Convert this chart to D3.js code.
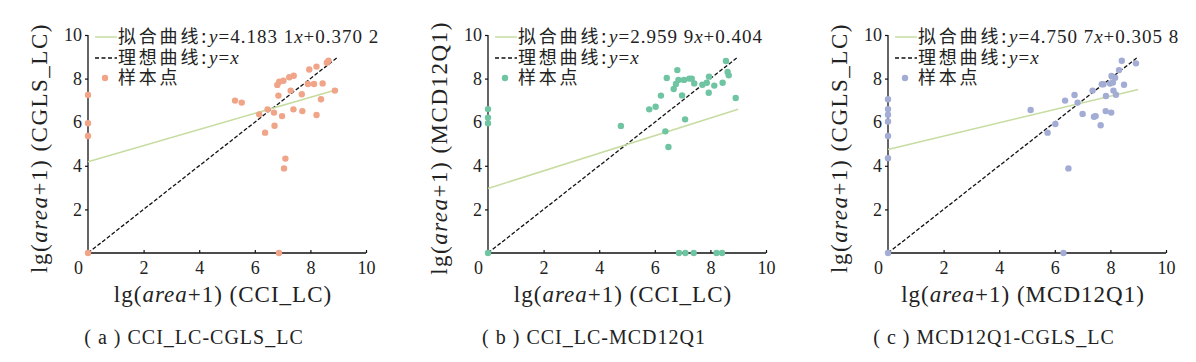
<!DOCTYPE html>
<html>
<head>
<meta charset="utf-8">
<script src="https://cdn.jsdelivr.net/npm/d3@7"></script>
<style>
  body { margin: 0; background: #fff; }
  text { font-family: "Liberation Serif", "DejaVu Serif", serif; fill: #222; }
  .cjk { font-family: "Noto Sans CJK SC", sans-serif; }
</style>
</head>
<body>
<div id="chart"></div>
<script>
// data
const tickValues = [0, 2, 4, 6, 8, 10];
const xNames = ['CCI_LC', 'CCI_LC', 'MCD12Q1'];
const yNames = ['CGLS_LC', 'MCD12Q1', 'CGLS_LC'];
const captions = ['( a ) CCI_LC-CGLS_LC', '( b ) CCI_LC-MCD12Q1', '( c ) MCD12Q1-CGLS_LC'];
const fitA = [0.3702, 4.1831];   // slope, intercept as drawn
const fitB = [0.404, 2.9599];
const fitC = [0.3058, 4.7507];
const fitText = [['4.183 1', '+0.370 2'], ['2.959 9', '+0.404'], ['4.750 7', '+0.305 8']];
const dotColors = ['#f0a488', '#6fc4a2', '#a2acd4'];

const pointsA = [
  [0, 7.25], [0, 5.95], [0, 5.37], [0, 0],
  [5.29, 6.99], [5.53, 6.9], [6.16, 6.36], [6.46, 6.59], [6.37, 5.52], [6.69, 6.44],
  [6.71, 5.84], [6.85, 7.22], [6.81, 7.71], [6.88, 7.86], [7.03, 7.9], [6.98, 6.28],
  [7.1, 4.33], [7.05, 3.88], [6.87, 0], [7.24, 8.06], [7.4, 8.13], [7.29, 7.45],
  [7.39, 6.59], [7.69, 7.28], [7.71, 6.51], [7.96, 8.42], [8.22, 8.55], [7.91, 7.75],
  [8.13, 7.75], [8.44, 7.78], [8.38, 7.05], [8.22, 6.33], [8.59, 8.73], [8.65, 8.82],
  [8.88, 7.45]
];
const pointsB = [
  [0, 6.6], [0, 6.21], [0, 5.95], [0, 0],
  [4.78, 5.83], [5.8, 6.59], [6.03, 6.71], [6.22, 7.22], [6.38, 5.58], [6.49, 4.86],
  [6.43, 8.03], [6.68, 7.52], [6.76, 7.75], [6.85, 7.94], [6.81, 8.39], [7.05, 7.94],
  [6.98, 7.23], [7.09, 6.13], [7.24, 8.0], [7.33, 8.0], [7.42, 7.78], [7.71, 7.72],
  [7.87, 7.81], [7.95, 8.09], [7.94, 7.35], [8.14, 7.68], [8.44, 7.81], [8.56, 8.81],
  [8.62, 8.3], [8.66, 8.15], [8.91, 7.11],
  [6.87, 0], [7.1, 0], [7.4, 0], [8.22, 0], [8.42, 0]
];
const pointsC = [
  [0, 7.05], [0, 6.6], [0, 6.34], [0, 6.03], [0, 5.37], [0, 4.35], [0, 0],
  [5.13, 6.56], [5.74, 5.52], [6.02, 5.92], [6.37, 6.99], [6.49, 3.88], [6.71, 7.25],
  [6.82, 6.9], [7.0, 6.38], [7.36, 7.45], [7.41, 6.25], [7.47, 6.28], [7.65, 5.86],
  [7.69, 7.74], [7.75, 7.74], [7.84, 7.2], [7.83, 6.51], [8.03, 6.44], [8.04, 8.12],
  [7.99, 7.77], [8.09, 7.82], [8.17, 8.04], [8.11, 7.45], [8.2, 7.26], [8.31, 8.39],
  [8.41, 8.82], [8.49, 7.72], [8.92, 8.7], [6.31, 0]
];

const fits = [fitA, fitB, fitC];
const pointSets = [pointsA, pointsB, pointsC];

const width = 1196, height = 362;
const originX = [88, 488, 888];
const plotTop = 35, plotW = 278, plotH = 218;

const svg = d3.select('#chart').append('svg')
  .attr('width', width).attr('height', height);

const x = d3.scaleLinear().domain([0, 10]).range([0, plotW]);
const y = d3.scaleLinear().domain([0, 10]).range([plotH, 0]);

const line = d3.line().x(d => x(d[0])).y(d => y(d[1]));

pointSets.forEach((pts, i) => {
  const g = svg.append('g').attr('transform', `translate(${originX[i]},${plotTop})`);

  // axes
  const yAxis = g.append('g')
    .call(d3.axisLeft(y).tickValues(tickValues.slice(1)).tickSize(3).tickPadding(3));
  yAxis.select('.domain').attr('d', `M0,${y(10)}V${y(0)}`);
  const xAxis = g.append('g').attr('transform', `translate(0,${plotH})`)
    .call(d3.axisBottom(x).tickValues(tickValues).tickSizeInner(-3).tickSizeOuter(0).tickPadding(8));
  xAxis.select('.domain').attr('d', `M0,0H${x(10)}`);
  xAxis.selectAll('.tick').filter(d => d === 0).select('text').attr('dx', -10);
  xAxis.selectAll('.tick').filter(d => d === 0).select('line').remove();
  [yAxis, xAxis].forEach(a => {
    a.selectAll('.domain').attr('stroke', '#111').attr('stroke-width', 1.3);
    a.selectAll('.tick line').attr('stroke', '#111').attr('stroke-width', 1.2);
    a.selectAll('.tick text').attr('font-size', 18).attr('fill', '#222')
      .attr('font-family', '"Liberation Serif", serif');
  });

  // ideal line y = x
  g.append('path').datum([[0, 0], [9, 9]])
    .attr('d', line).attr('fill', 'none')
    .attr('stroke', '#111').attr('stroke-width', 1.3).attr('stroke-dasharray', '4,2');

  // fitted line
  const f = fits[i];
  g.append('path').datum([[0, f[1]], [9, f[1] + f[0] * 9]])
    .attr('d', line).attr('fill', 'none')
    .attr('stroke', '#c6dca0').attr('stroke-width', 1.5);

  // sample points
  g.selectAll('circle.pt').data(pts).enter().append('circle')
    .attr('class', 'pt')
    .attr('cx', d => x(d[0])).attr('cy', d => y(d[1]))
    .attr('r', 3.2).attr('fill', dotColors[i]);

  // legend
  const lg = g.append('g');
  const rows = [2, 23, 43];
  lg.append('line').attr('x1', 7).attr('x2', 29).attr('y1', rows[0]).attr('y2', rows[0])
    .attr('stroke', '#c6dca0').attr('stroke-width', 1.5);
  lg.append('line').attr('x1', 7).attr('x2', 29).attr('y1', rows[1]).attr('y2', rows[1])
    .attr('stroke', '#111').attr('stroke-width', 1.3).attr('stroke-dasharray', '4,2.5');
  lg.append('circle').attr('cx', 17).attr('cy', rows[2]).attr('r', 3.2).attr('fill', dotColors[i]);

  const t1 = lg.append('text').attr('x', 30).attr('y', rows[0] + 6).attr('font-size', 18);
  t1.append('tspan').attr('class', 'cjk').attr('letter-spacing', 2.8).text('拟合曲线:');
  t1.append('tspan').attr('font-style', 'italic').attr('font-size', 19).attr('letter-spacing', 1).text('y');
  t1.append('tspan').attr('font-size', 19).attr('letter-spacing', 1).text('=' + fitText[i][0]);
  t1.append('tspan').attr('font-style', 'italic').attr('font-size', 19).attr('letter-spacing', 1).text('x');
  t1.append('tspan').attr('font-size', 19).attr('letter-spacing', 1).text(fitText[i][1]);

  const t2 = lg.append('text').attr('x', 30).attr('y', rows[1] + 6).attr('font-size', 18);
  t2.append('tspan').attr('class', 'cjk').attr('letter-spacing', 2.8).text('理想曲线:');
  t2.append('tspan').attr('font-style', 'italic').attr('font-size', 19).attr('letter-spacing', 1).text('y');
  t2.append('tspan').attr('font-size', 19).attr('letter-spacing', 1).text('=');
  t2.append('tspan').attr('font-style', 'italic').attr('font-size', 19).text('x');

  lg.append('text').attr('class', 'cjk').attr('x', 30).attr('y', rows[2] + 6)
    .attr('font-size', 18).attr('letter-spacing', 2.8).text('样本点');

  // axis titles
  const xt = g.append('text').attr('x', 135).attr('y', 267).attr('text-anchor', 'middle')
    .attr('font-size', 23).attr('letter-spacing', 1);
  xt.append('tspan').text('lg(');
  xt.append('tspan').attr('font-style', 'italic').text('area');
  xt.append('tspan').text('+1) (' + xNames[i] + ')');

  const yt = g.append('text').attr('transform', `translate(-41,${113}) rotate(-90)`)
    .attr('text-anchor', 'middle').attr('font-size', 23).attr('letter-spacing', 1.5);
  yt.append('tspan').text('lg(');
  yt.append('tspan').attr('font-style', 'italic').text('area');
  yt.append('tspan').text('+1) (' + yNames[i] + ')');

  // caption
  g.append('text').attr('x', 106).attr('y', 309).attr('text-anchor', 'middle')
    .attr('font-size', 20).attr('letter-spacing', 1).text(captions[i]);
});
</script>
</body>
</html>
